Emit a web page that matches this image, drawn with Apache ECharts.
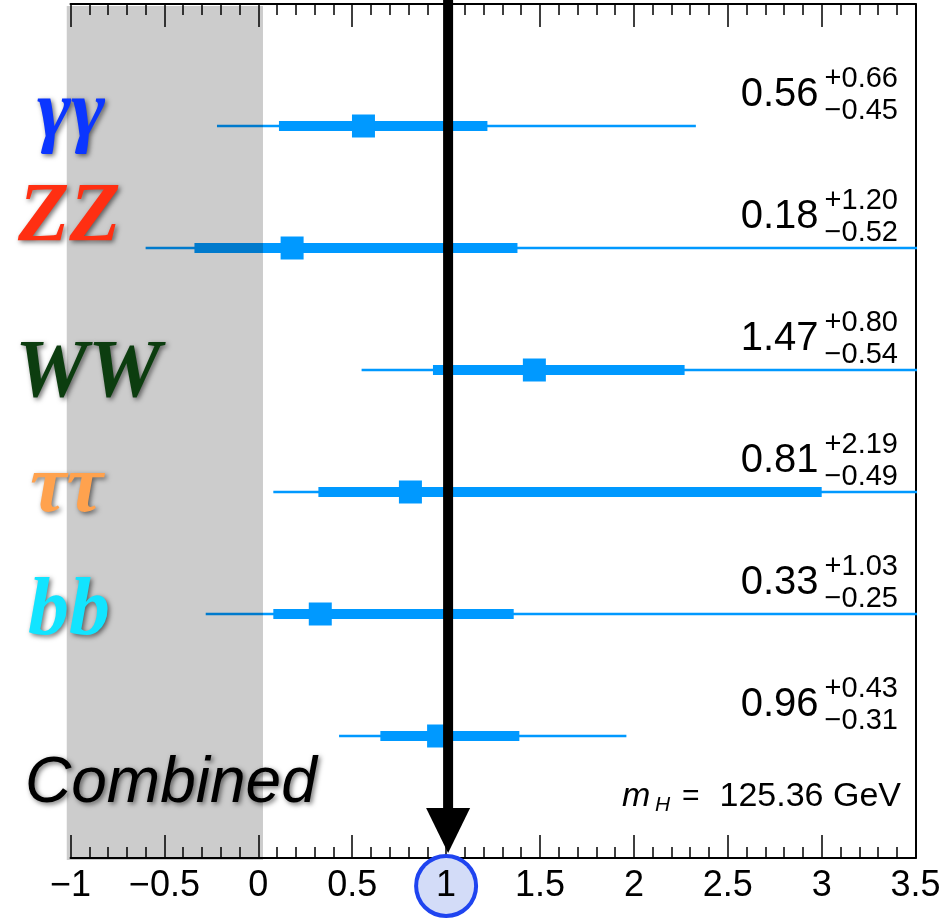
<!DOCTYPE html>
<html>
<head>
<meta charset="utf-8">
<script src="https://cdn.jsdelivr.net/npm/echarts@6/dist/echarts.min.js"></script>
<style>
html,body{margin:0;padding:0;background:#fff;}
#main{width:946px;height:921px;}
</style>
</head>
<body>
<div id="main"></div>
<script>
// channels, top to bottom
var channels = ['γγ', 'ZZ', 'WW', 'ττ', 'bb', 'Combined'];
var rowPos = [6, 5, 4, 3, 2, 1];
// signal strength and quoted errors
var mu = [0.56, 0.18, 1.47, 0.81, 0.33, 0.96];
var errUp = [0.66, 1.20, 0.80, 2.19, 1.03, 0.43];
var errDown = [0.45, 0.52, 0.54, 0.49, 0.25, 0.31];
// thin outer interval
var outerLow = [-0.22, -0.60, 0.55, 0.08, -0.28, 0.43];
var outerHigh = [2.33, 3.60, 3.60, 3.60, 3.60, 1.96];
// shaded region mu < 0
var bandRange = [-1.02, 0.025];
var smValue = 1;
var xTicks = { min: -1, max: 3.5, interval: 0.5 };

var labelColors = ['#0b36ff', '#ff2f12', '#0c3d0f', '#ffa24e', '#12e4ff', '#000000'];
var labelFonts = ['bold italic 82px "Liberation Serif"', 'bold italic 84px "Liberation Serif"',
  'bold italic 82px "Liberation Serif"', 'bold italic 82px "Liberation Serif"',
  'bold italic 82px "Liberation Serif"', 'italic 64px "Liberation Sans"'];
var labelPos = [[37, 115], [18, 219], [15, 375], [30, 490], [28, 613], [25, 784]];

var blue = '#0099ff';
var sans = '"Liberation Sans", Arial, sans-serif';

var rows = [];
for (var i = 0; i < channels.length; i++) {
  rows.push([rowPos[i], mu[i], mu[i] - errDown[i], mu[i] + errUp[i], outerLow[i], outerHigh[i], errUp[i], errDown[i]]);
}

function renderRow(params, api) {
  var y = api.value(0);
  var c = api.coord([api.value(1), y]);
  var px = function (v) { return api.coord([v, y])[0]; };
  var lo1 = px(api.value(2)), hi1 = px(api.value(3));
  var lo2 = px(api.value(4)), hi2 = px(api.value(5));
  return {
    type: 'group',
    children: [
      { type: 'rect', shape: { x: lo2, y: c[1] - 1.25, width: hi2 - lo2, height: 2.5 }, style: { fill: blue } },
      { type: 'rect', shape: { x: lo1, y: c[1] - 5, width: hi1 - lo1, height: 10 }, style: { fill: blue } },
      { type: 'rect', shape: { x: c[0] - 11.5, y: c[1] - 11.5, width: 23, height: 23 }, style: { fill: blue } }
    ]
  };
}

function renderValueText(params, api) {
  var y = api.value(0);
  var right = api.coord([xTicks.max, y]);
  var xMain = right[0] - 97;
  return {
    type: 'group',
    children: [
      { type: 'text', x: xMain, y: right[1] - 31,
        style: { text: api.value(1).toFixed(2), font: '40px ' + sans, fill: '#000', align: 'right', verticalAlign: 'middle' } },
      { type: 'text', x: xMain + 6, y: right[1] - 47,
        style: { text: '+' + api.value(6).toFixed(2), font: '29px ' + sans, fill: '#000', align: 'left', verticalAlign: 'middle' } },
      { type: 'text', x: xMain + 6, y: right[1] - 15,
        style: { text: '\u2212' + api.value(7).toFixed(2), font: '29px ' + sans, fill: '#000', align: 'left', verticalAlign: 'middle' } }
    ]
  };
}

function renderBand(params, api) {
  var a = api.coord([api.value(0), 7]);
  var b = api.coord([api.value(1), 0]);
  return { type: 'rect', shape: { x: a[0], y: a[1] + 2, width: b[0] - a[0], height: b[1] - a[1] }, style: { fill: 'rgba(0,0,0,0.2)' } };
}

function renderArrow(params, api) {
  var top = api.coord([api.value(0), 7]);
  var bot = api.coord([api.value(0), 0]);
  var x = top[0] + 2;
  var base = bot[1] - 50, tip = bot[1] - 5;
  return {
    type: 'group',
    children: [
      { type: 'rect', shape: { x: x - 5, y: 0, width: 10, height: base + 1 }, style: { fill: '#000' } },
      { type: 'polygon', shape: { points: [[x - 22, base], [x + 22, base], [x, tip]] }, style: { fill: '#000' } }
    ]
  };
}

var tickCommon = {
  axisLine: { show: true, onZero: false, lineStyle: { color: '#000', width: 2 } },
  axisTick: { show: true, inside: true, length: 23, lineStyle: { color: '#000', width: 1.5 } },
  minorTick: { show: true, splitNumber: 5, length: 11, lineStyle: { color: '#000', width: 1.5 } },
  splitLine: { show: false }
};

var chart = echarts.init(document.getElementById('main'));
var shadow = { textShadowColor: 'rgba(0,0,0,0.55)', textShadowBlur: 5, textShadowOffsetX: 2, textShadowOffsetY: 2 };

var graphics = [];
for (var k = 0; k < channels.length; k++) {
  graphics.push({
    type: 'text', x: labelPos[k][0], y: labelPos[k][1], z: 100,
    style: Object.assign({ text: channels[k], font: labelFonts[k], fill: labelColors[k], align: 'left', verticalAlign: 'middle' }, shadow)
  });
}
graphics.push({ type: 'text', x: 622, y: 797, z: 100, style: { text: 'm', font: 'italic 34px ' + sans, fill: '#000', align: 'left', verticalAlign: 'middle' } });
graphics.push({ type: 'text', x: 655, y: 805, z: 100, style: { text: 'H', font: 'italic 21px ' + sans, fill: '#000', align: 'left', verticalAlign: 'middle' } });
graphics.push({ type: 'text', x: 682, y: 797, z: 100, style: { text: '=', font: '30px ' + sans, fill: '#000', align: 'left', verticalAlign: 'middle' } });
graphics.push({ type: 'text', x: 901, y: 797, z: 100, style: { text: '125.36 GeV', font: '34px ' + sans, fill: '#000', align: 'right', verticalAlign: 'middle' } });

chart.setOption({
  animation: false,
  backgroundColor: '#fff',
  grid: { left: 70.5, right: 30.4, top: 4, bottom: 63, containLabel: false },
  xAxis: [
    Object.assign({
      type: 'value', min: xTicks.min, max: xTicks.max, interval: xTicks.interval, position: 'bottom',
      axisLabel: {
        show: true, margin: -1, fontSize: 36, fontFamily: sans, color: '#000', lineHeight: 58,
        formatter: function (v) {
          if (v === smValue) return '{c|1}';
          return String(v).replace('-', '\u2212');
        },
        rich: {
          c: { width: 56, height: 56, lineHeight: 58, align: 'center', borderRadius: 31, borderWidth: 4,
               borderColor: '#1f44f0', backgroundColor: '#d3dcf8', fontSize: 36, fontFamily: sans, color: '#000' }
        }
      }
    }, tickCommon),
    Object.assign({
      type: 'value', min: xTicks.min, max: xTicks.max, interval: xTicks.interval, position: 'top',
      axisLabel: { show: false }
    }, tickCommon)
  ],
  yAxis: [{
    type: 'value', min: 0, max: 7, position: 'right',
    axisLine: { show: true, onZero: false, lineStyle: { color: '#000', width: 2 } },
    axisTick: { show: false }, axisLabel: { show: false }, splitLine: { show: false }
  }],
  graphic: graphics,
  series: [
    { type: 'custom', name: 'mu', z: 2, clip: true, data: rows, encode: { x: [1, 2, 3, 4, 5], y: 0 }, renderItem: renderRow },
    { type: 'custom', name: 'band', z: 3, clip: false, data: [bandRange], encode: { x: [0, 1] }, renderItem: renderBand },
    { type: 'custom', name: 'sm', z: 4, clip: false, data: [[smValue]], encode: { x: 0 }, renderItem: renderArrow },
    { type: 'custom', name: 'values', z: 5, clip: false, data: rows, encode: { x: 1, y: 0 }, renderItem: renderValueText }
  ]
});
</script>
</body>
</html>
